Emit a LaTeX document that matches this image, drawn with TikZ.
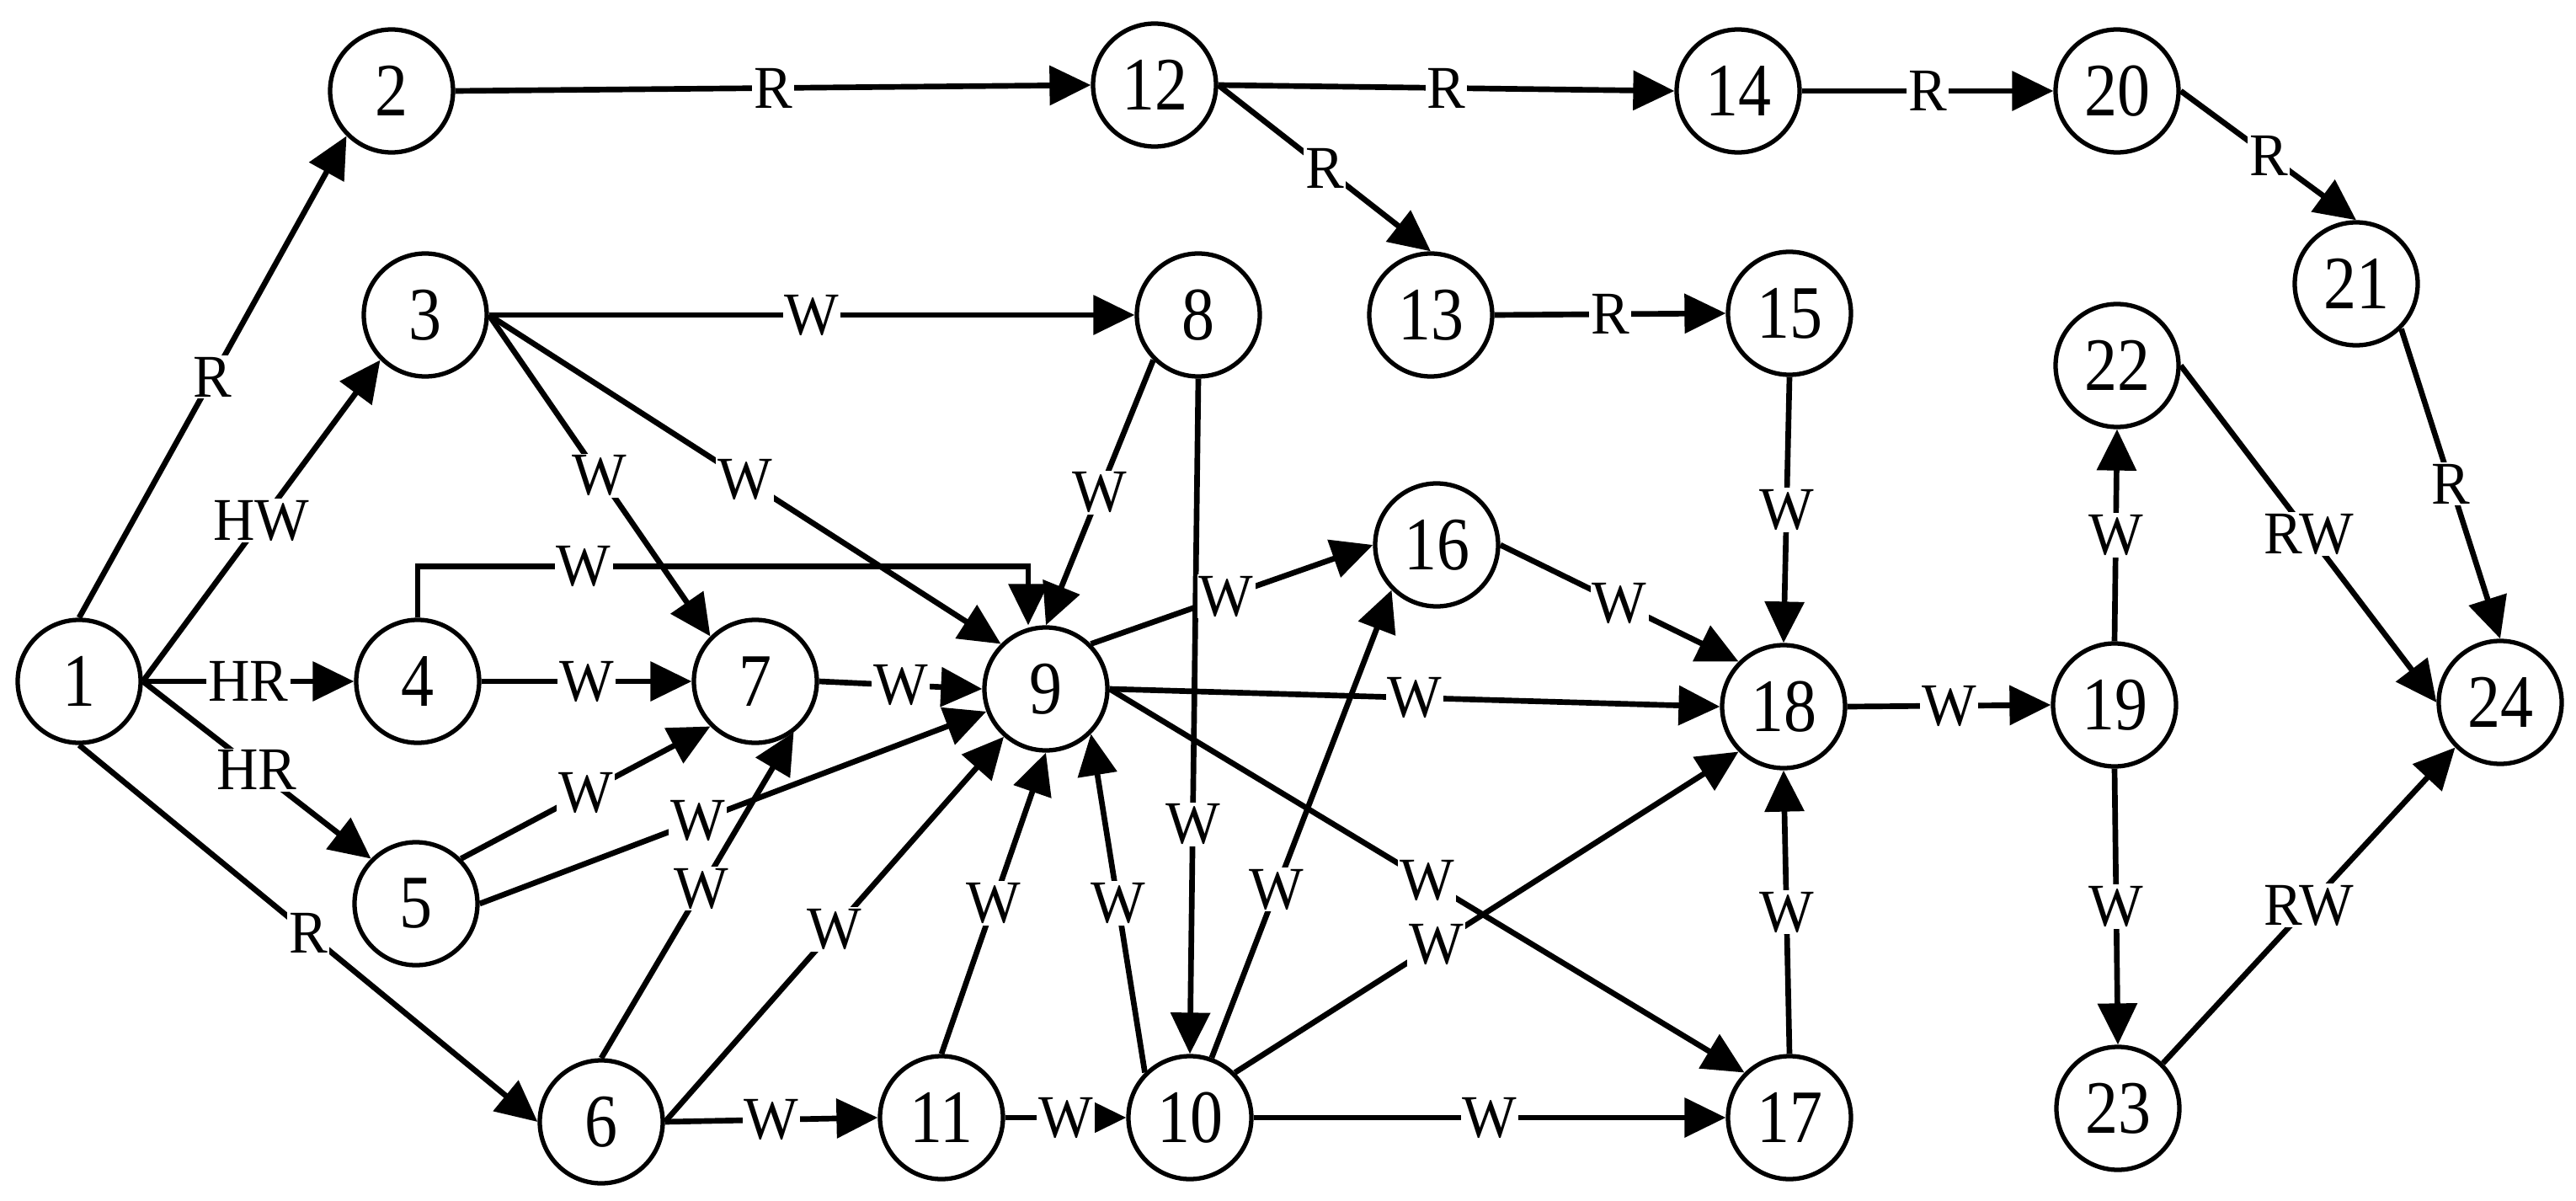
\documentclass[tikz,border=0pt]{standalone}
\usepackage{fontspec}
\setmainfont{Liberation Serif}
\newfontfamily\numfont[FakeStretch=0.87]{Liberation Serif}
\newfontfamily\lblfont[FakeStretch=0.95]{Liberation Serif}
\usetikzlibrary{arrows.meta}

\begin{document}
\begin{tikzpicture}[
	vtx/.style={circle,draw,line width=1.5pt,minimum size=1.46cm,inner sep=0pt,font=\numfont\fontsize{25.5}{30}\selectfont},
	lbl/.style={fill=white,inner sep=0.6pt,font=\lblfont\fontsize{20.5}{24}\selectfont}
	]
		\useasboundingbox (0,0) rectangle (30.59,-14.26);
		%
		\node[vtx] (v1) at (0.94,-8.09) {1};
		\node[vtx] (v2) at (4.65,-1.08) {2};
		\node[vtx] (v3) at (5.05,-3.74) {3};
		\node[vtx] (v4) at (4.96,-8.09) {4};
		\node[vtx] (v5) at (4.94,-10.73) {5};
		\node[vtx] (v6) at (7.14,-13.32) {6};
		\node[vtx] (v7) at (8.97,-8.09) {7};
		\node[vtx] (v8) at (14.23,-3.74) {8};
		\node[vtx] (v9) at (12.42,-8.18) {9};
		\node[vtx] (v10) at (14.13,-13.27) {10};
		\node[vtx] (v11) at (11.18,-13.27) {11};
		\node[vtx] (v12) at (13.71,-1.01) {12};
		\node[vtx] (v13) at (16.99,-3.74) {13};
		\node[vtx] (v14) at (20.64,-1.08) {14};
		\node[vtx] (v15) at (21.25,-3.72) {15};
		\node[vtx] (v16) at (17.06,-6.47) {16};
		\node[vtx] (v17) at (21.25,-13.27) {17};
		\node[vtx] (v18) at (21.18,-8.39) {18};
		\node[vtx] (v19) at (25.11,-8.37) {19};
		\node[vtx] (v20) at (25.14,-1.08) {20};
		\node[vtx] (v21) at (27.98,-3.37) {21};
		\node[vtx] (v22) at (25.14,-4.34) {22};
		\node[vtx] (v23) at (25.15,-13.16) {23};
		\node[vtx] (v24) at (29.69,-8.34) {24};
		%
		\path[->,line width=1.9pt,>={Triangle[length=4.9mm,width=4.6mm]}]
			(v1.north) edge node[lbl]{R} (v2.south west)
			(v1.east) edge node[lbl]{HW} (v3.south west)
			(v1.east) edge node[lbl]{HR} (v4.west)
			(v1.east) edge node[lbl]{HR} (v5.north west)
			(v1.south) edge node[lbl]{R} (v6.west)
			(v2.east) edge node[lbl]{R} (v12.west)
			(v3.east) edge node[lbl]{W} (v8.west)
			(v3.east) edge node[lbl]{W} (v7.north west)
			(v3.east) edge node[lbl]{W} (v9.north west)
			(v4.east) edge node[lbl]{W} (v7.west)
			(v5.north east) edge node[lbl]{W} (v7.south west)
			(v5.east) edge node[lbl,pos=0.43]{W} (v9)
			(v6.north) edge node[lbl,pos=0.52]{W} (v7.-53)
			(v6.east) edge node[lbl]{W} (v9)
			(v6.east) edge node[lbl]{W} (v11.west)
			(v7.east) edge node[lbl]{W} (v9.west)
			(v8.south west) edge node[lbl]{W} (v9.north)
			(v8.south) edge node[lbl,pos=0.66]{W} (v10.north)
			(v9.north east) edge node[lbl,pos=0.48]{W} (v16.west)
			(v9.east) edge node[lbl]{W} (v18.west)
			(v9.east) edge node[lbl]{W} (v17.north west)
			(v11.north) edge node[lbl]{W} (v9.south)
			(v11.east) edge node[lbl]{W} (v10.west)
			(v10.north west) edge node[lbl]{W} (v9.south east)
			(v10.70) edge node[lbl,pos=0.36]{W} (v16.south west)
			(v10.north east) edge node[lbl,pos=0.4]{W} (v18.south west)
			(v10.east) edge node[lbl]{W} (v17.west)
			(v12.east) edge node[lbl]{R} (v14.west)
			(v12.east) edge node[lbl]{R} (v13.north)
			(v13.east) edge node[lbl]{R} (v15.west)
			(v14.east) edge node[lbl]{R} (v20.west)
			(v20.east) edge node[lbl]{R} (v21.north)
			(v15.south) edge node[lbl]{W} (v18.north)
			(v16.east) edge node[lbl]{W} (v18.north west)
			(v17.north) edge node[lbl]{W} (v18.south)
			(v18.east) edge node[lbl]{W} (v19.west)
			(v19.north) edge node[lbl]{W} (v22.south)
			(v19.south) edge node[lbl]{W} (v23.north)
			(v22.east) edge node[lbl]{RW} (v24.west)
			(v21.south east) edge node[lbl]{R} (v24.north)
			(v23.north east) edge node[lbl]{RW} (v24.south west);
		%
		\draw[->,line width=1.9pt,>={Triangle[length=4.9mm,width=4.6mm]}]
			(v4.north) -- ++(0,0.61) -| node[lbl,pos=0.136]{W} ([xshift=-2.1mm]v9.north);
\end{tikzpicture}
\end{document}
